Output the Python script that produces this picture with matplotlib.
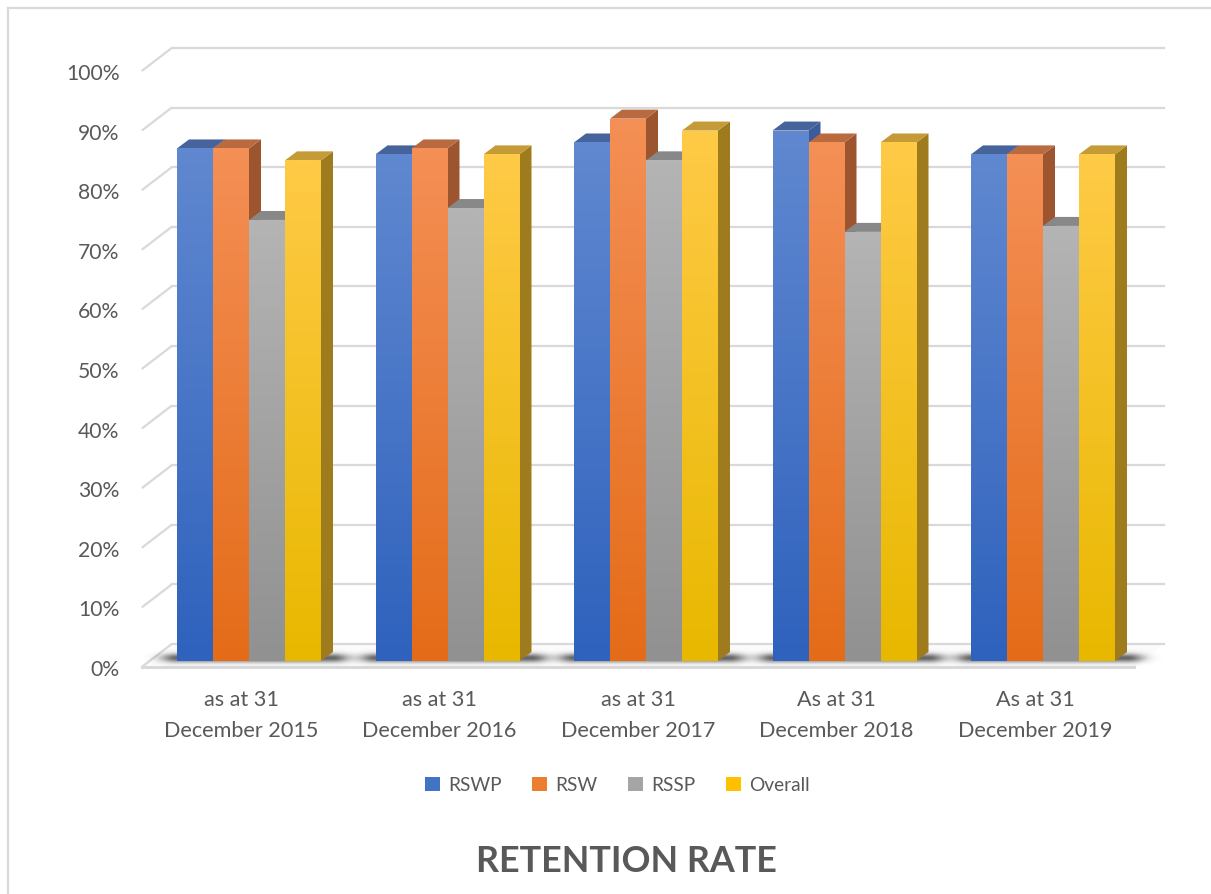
import numpy as np
import matplotlib
matplotlib.use("Agg")
import matplotlib.pyplot as plt
from matplotlib.patches import Polygon, Patch
from matplotlib.lines import Line2D
from matplotlib.colors import to_rgb

# ---- data -------------------------------------------------------------
categories = [
    "as at 31\nDecember 2015",
    "as at 31\nDecember 2016",
    "as at 31\nDecember 2017",
    "As at 31\nDecember 2018",
    "As at 31\nDecember 2019",
]
series_names = ["RSWP", "RSW", "RSSP", "Overall"]
rswp = [0.86, 0.85, 0.87, 0.89, 0.85]
rsw = [0.86, 0.86, 0.91, 0.87, 0.85]
rssp = [0.74, 0.76, 0.84, 0.72, 0.73]
overall = [0.84, 0.85, 0.89, 0.87, 0.85]
y_ticks = [0.0, 0.1, 0.2, 0.3, 0.4, 0.5, 0.6, 0.7, 0.8, 0.9, 1.0]
y_tick_labels = ["0%", "10%", "20%", "30%", "40%", "50%", "60%", "70%", "80%", "90%", "100%"]

series_values = [rswp, rsw, rssp, overall]

# ---- styling ------------------------------------------------------------
FONT = ["Lato", "DejaVu Sans"]
TEXT = "#595959"
GRID = "#D9D9D9"
# (front-face top, front-face bottom, side, top face)
palette = [
    ("#6088D0", "#2F62BD", "#3A5C9C", "#47639B"),
    ("#F48F55", "#E46C19", "#9D5530", "#B96A3F"),
    ("#B4B4B4", "#919191", "#7A7A7A", "#888888"),
    ("#FFCA46", "#E8B800", "#9E7B1C", "#C49B36"),
]
legend_colors = ["#4472C4", "#ED7D31", "#A5A5A5", "#FFC000"]

W, H = 1211, 895
fig = plt.figure(figsize=(W / 100, H / 100), dpi=100)
fig.patch.set_facecolor("white")


def px_rect(left, top, right, bottom):
    """Axes rectangle from pixel edges measured from the top-left corner."""
    return [left / W, 1 - bottom / H, (right - left) / W, (bottom - top) / H]


# plane geometry (pixels): bar plane, front plane and back wall
BAR_L, BAR_R, BAR_T, BAR_B = 149.75, 1142.25, 66, 662
FRONT = (-8, -6)    # display offset of the front plane from the bar plane
BACK = (22, 17)     # display offset of the back wall from the bar plane
DEPTH = (12, 9)     # depth of each column
XLIM = (-0.5, len(categories) - 0.5)
YLIM = (0, 1.0)

# back wall with its gridlines
ax_back = fig.add_axes(px_rect(BAR_L + BACK[0], BAR_T - BACK[1], BAR_R + BACK[0], BAR_B - BACK[1]))
ax_back.set_xlim(*XLIM)
ax_back.set_ylim(*YLIM)
ax_back.set_yticks(y_ticks[1:])
ax_back.set_xticks([])
ax_back.grid(axis="y", color=GRID, linewidth=1.6)
ax_back.tick_params(left=False, labelleft=False)
for s in ax_back.spines.values():
    s.set_visible(False)
ax_back.set_facecolor("none")
for gl in ax_back.get_ygridlines():
    gl.set_clip_on(False)
ax_back.set_zorder(0)

# bar plane
ax = fig.add_axes(px_rect(BAR_L, BAR_T, BAR_R, BAR_B))
ax.set_xlim(*XLIM)
ax.set_ylim(*YLIM)
ax.set_facecolor("none")
ax.axis("off")
ax.set_zorder(1)

pts = ax.transData.transform([(0, 0), (1, 1)])
pxx = pts[1, 0] - pts[0, 0]
pxy = pts[1, 1] - pts[0, 1]


def dx(p):
    return p / pxx


def dy(p):
    return p / pxy


x_left, x_right = XLIM
fdx, fdy = dx(FRONT[0]), dy(FRONT[1])
bdx, bdy = dx(BACK[0]), dy(BACK[1])
ddx, ddy = dx(DEPTH[0]), dy(DEPTH[1])

# floor
floor = Polygon([(x_left + fdx, fdy), (x_right + fdx, fdy), (x_right + bdx, bdy), (x_left + bdx, bdy)],
                closed=True, facecolor="#FBFBFB", edgecolor="none", zorder=1, clip_on=False)
ax.add_patch(floor)
ax.add_line(Line2D([x_left + fdx, x_right + fdx], [fdy, fdy], color=GRID, lw=2.2, zorder=2, clip_on=False))
ax.add_line(Line2D([x_left + bdx, x_right + bdx], [bdy, bdy], color=GRID, lw=1.6, zorder=2, clip_on=False))

# side gridlines joining the front plane to the back wall
for v in y_ticks:
    ax.add_line(Line2D([x_left + fdx, x_left + bdx], [v + fdy, v + bdy], color=GRID,
                       lw=1.6, zorder=2, clip_on=False, solid_capstyle="butt"))

# columns
n_series = len(series_values)
bar_w = dx(36)
x = np.arange(len(categories))
offsets = [(j - n_series / 2) * bar_w for j in range(n_series)]

# soft shadow under each cluster
for i in range(len(categories)):
    xl = x[i] + offsets[0]
    xr = x[i] + offsets[-1] + bar_w + ddx
    margin = dx(40)
    ex0, ex1 = xl - margin, xr + margin
    ey0, ey1 = dy(-6), dy(16)
    xs = np.linspace(ex0, ex1, 300)
    ys = np.linspace(ey1, ey0, 40)
    dist = np.maximum(0, np.maximum(xl - xs, xs - xr)) * pxx
    hx = np.exp(-(dist / 16.0) ** 2)
    hy = np.exp(-(((ys * pxy) - 3.0) / 4.5) ** 2)
    alpha = 0.6 * np.outer(hy, hx)
    rgba = np.zeros((len(ys), len(xs), 4))
    rgba[..., 3] = alpha
    ax.imshow(rgba, extent=(ex0, ex1, ey0, ey1), aspect="auto", zorder=3,
              interpolation="bilinear", clip_on=False)

zbase = 10
for j, values in enumerate(series_values):
    top_c, bot_c, side_c, cap_c = palette[j]
    bars = ax.bar(x + offsets[j], values, width=bar_w, align="edge",
                  color=bot_c, linewidth=0, label=series_names[j])
    grad = np.linspace(0, 1, 64)[:, None]
    c0, c1 = np.array(to_rgb(top_c)), np.array(to_rgb(bot_c))
    img = (c0[None, None, :] * (1 - grad[..., None]) + c1[None, None, :] * grad[..., None])
    for i, patch in enumerate(bars.patches):
        z = zbase + 4 * (i * n_series + j)
        x0 = patch.get_x()
        w = patch.get_width()
        v = patch.get_height()
        side = Polygon([(x0 + w, 0), (x0 + w, v), (x0 + w + ddx, v + ddy), (x0 + w + ddx, ddy)],
                       closed=True, facecolor=side_c, edgecolor="none", zorder=z)
        cap = Polygon([(x0, v), (x0 + w, v), (x0 + w + ddx, v + ddy), (x0 + ddx, v + ddy)],
                      closed=True, facecolor=cap_c, edgecolor="none", zorder=z + 1)
        ax.add_patch(side)
        ax.add_patch(cap)
        patch.set_zorder(z + 2)
        im = ax.imshow(img, extent=(x0, x0 + w, 0, v), aspect="auto", zorder=z + 3,
                       interpolation="bilinear")
        im.set_clip_path(patch)

ax.set_xlim(*XLIM)
ax.set_ylim(*YLIM)

# front plane carrying the axis labels
ax_front = fig.add_axes(px_rect(BAR_L + FRONT[0], BAR_T - FRONT[1], BAR_R + FRONT[0], BAR_B - FRONT[1]))
ax_front.set_xlim(*XLIM)
ax_front.set_ylim(*YLIM)
ax_front.set_facecolor("none")
for s in ax_front.spines.values():
    s.set_visible(False)
ax_front.set_yticks(y_ticks, y_tick_labels)
ax_front.set_xticks(x, categories)
ax_front.tick_params(axis="y", length=0, pad=16, labelsize=15.2, labelcolor=TEXT)
ax_front.tick_params(axis="x", length=0, pad=16, labelsize=15.6, labelcolor=TEXT)
for lab in ax_front.get_xticklabels() + ax_front.get_yticklabels():
    lab.set_fontfamily(FONT)
for lab in ax_front.get_xticklabels():
    lab.set_linespacing(1.65)
ax_front.set_zorder(2)

# legend
handles = [Patch(facecolor=c, edgecolor="none") for c in legend_colors]
fig.legend(handles, series_names, loc="center", bbox_to_anchor=(617.5 / W, 1 - 786 / H),
           ncol=4, frameon=False, handlelength=0.75, handleheight=0.75,
           handletextpad=0.45, columnspacing=1.6,
           prop={"family": FONT, "size": 13.8}, labelcolor=TEXT)

# title below the chart
fig.text(626.5 / W, 1 - 862 / H, "RETENTION RATE", ha="center", va="center",
         fontsize=25.8, fontweight="bold", color=TEXT, family=FONT)

# chart border
fig.add_artist(Line2D([8 / W, 1.0], [1 - 9 / H, 1 - 9 / H], color=GRID, lw=1.6,
                      transform=fig.transFigure))
fig.add_artist(Line2D([8 / W, 8 / W], [1 - 9 / H, 0.0], color=GRID, lw=1.6,
                      transform=fig.transFigure))

fig.savefig("out.png", dpi=100)
